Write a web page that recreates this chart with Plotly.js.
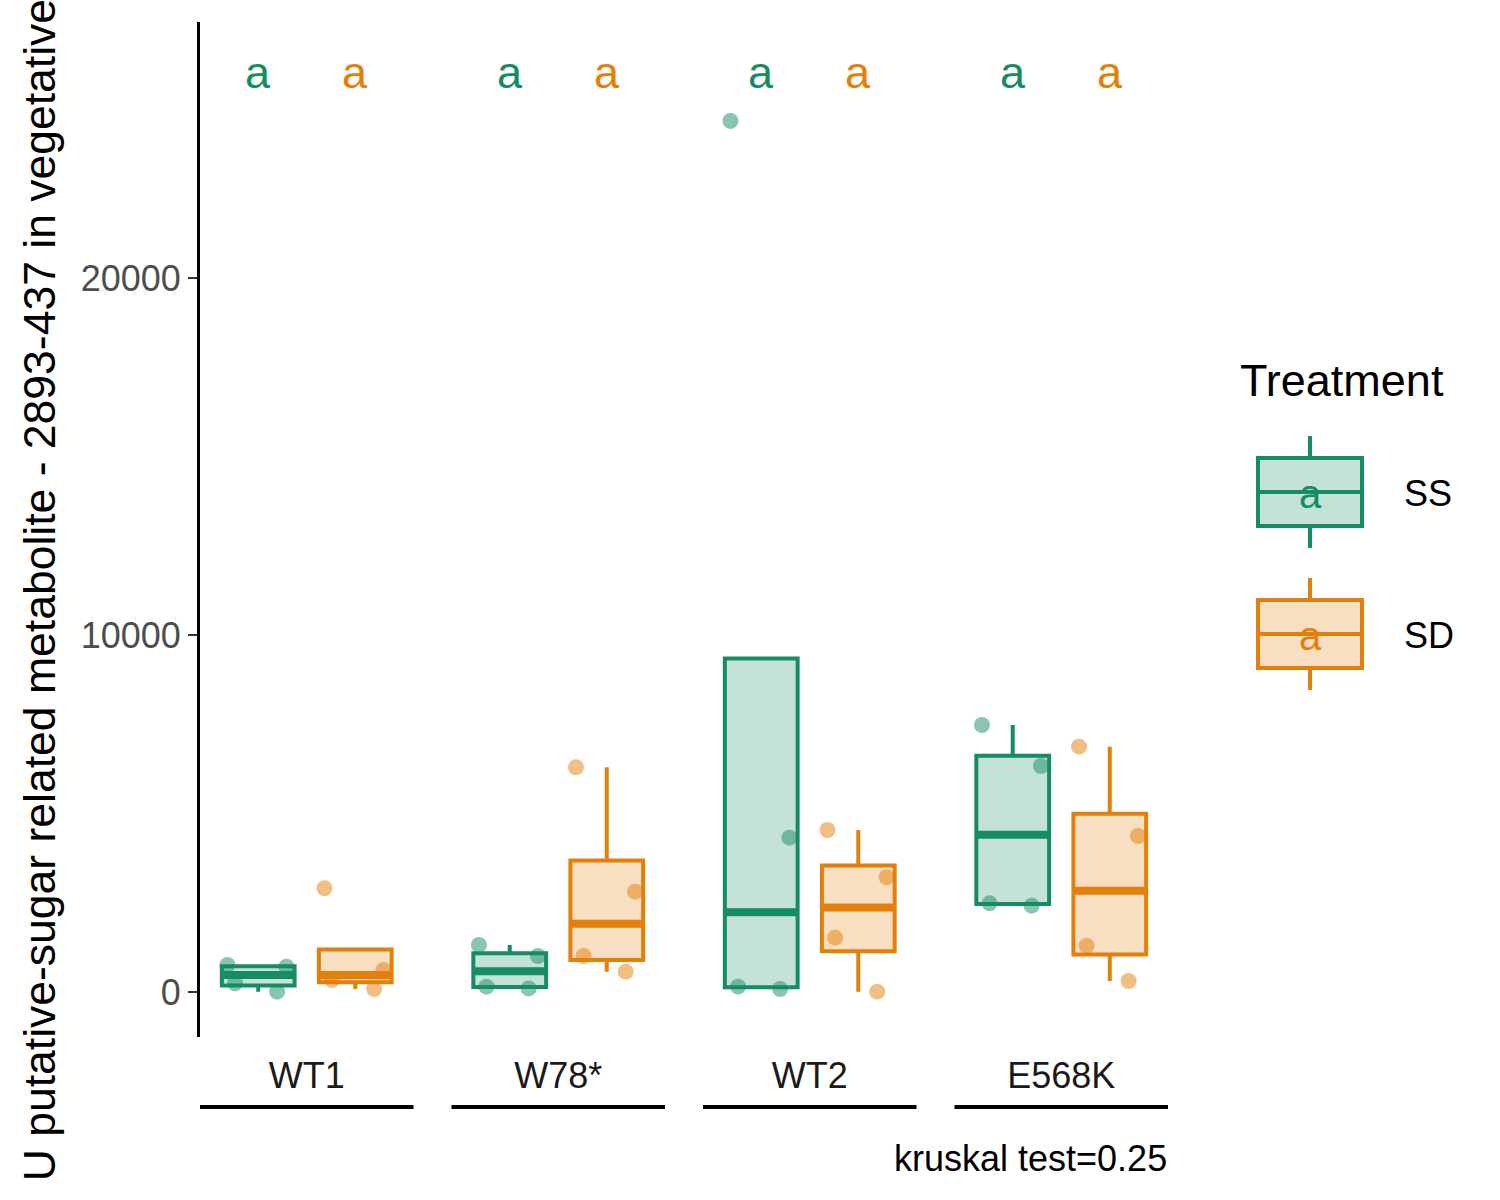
<!DOCTYPE html>
<html>
<head>
<meta charset="utf-8">
<script src="https://cdn.plot.ly/plotly-3.0.1.min.js"></script>
<style>html,body{margin:0;padding:0;background:#fff;}#chart{width:1500px;height:1200px;}</style>
</head>
<body>
<div id="chart"></div>
<script>
// ---------------- data ----------------
const genotypes = ['WT1', 'W78*', 'WT2', 'E568K'];
const treatments = ['SS', 'SD'];
const valuesSS_WT1 = [756, 709, 244, 8];
const valuesSS_W78 = [1008, 1316, 150, 100];
const valuesSS_WT2 = [84, 149, 4322, 24400];
const valuesSS_E568K = [7479, 6330, 2418, 2484];
const valuesSD_WT1 = [2905, 616, 84, 336];
const valuesSD_W78 = [6294, 2810, 1008, 569];
const valuesSD_WT2 = [4538, 3213, 1521, 8];
const valuesSD_E568K = [6871, 4370, 1297, 308];
const lettersSS = ['a', 'a', 'a', 'a'];
const lettersSD = ['a', 'a', 'a', 'a'];
const yTickVals = [0, 10000, 20000];
const yTitle = 'U putative-sugar related metabolite - 2893-437 in vegetative stage';
const legendTitle = 'Treatment';
const testLabel = 'kruskal test=0.25';

// ---------------- styles ----------------
const lineColors = ['#168C62', '#E2800A'];
const fillColors = ['rgba(22,140,98,0.25)', 'rgba(226,128,10,0.25)'];
const pointColors = ['rgba(22,140,98,0.5)', 'rgba(226,128,10,0.5)'];
const FONT = 'Liberation Sans, Arial, sans-serif';

const seriesValues = [
  [valuesSS_WT1, valuesSS_W78, valuesSS_WT2, valuesSS_E568K],
  [valuesSD_WT1, valuesSD_W78, valuesSD_WT2, valuesSD_E568K]
];
const seriesLetters = [lettersSS, lettersSD];

function quant(sorted, p) {
  const n = sorted.length;
  const h = (n - 1) * p;
  const lo = Math.floor(h);
  const hi = Math.min(lo + 1, n - 1);
  return sorted[lo] + (h - lo) * (sorted[hi] - sorted[lo]);
}
function stats(vals) {
  const s = vals.slice().sort((a, b) => a - b);
  const q1 = quant(s, 0.25), med = quant(s, 0.5), q3 = quant(s, 0.75);
  const iqr = q3 - q1;
  const inside = s.filter(v => v >= q1 - 1.5 * iqr && v <= q3 + 1.5 * iqr);
  return {q1, med, q3, lf: Math.min(...inside), uf: Math.max(...inside)};
}

const W = 1500, H = 1200;
const M = {l: 200, r: 332, t: 22, b: 163};
const plotW = W - M.l - M.r, plotH = H - M.t - M.b;
const px2x = px => (px - M.l) / plotW;
const py2y = py => (H - M.b - py) / plotH;

const panelW = 213.5, gap = 38;
const axName = i => (i === 0 ? 'x' : 'x' + (i + 1));
const axKey = i => (i === 0 ? 'xaxis' : 'xaxis' + (i + 1));

const boxTraces = [], medTraces = [], ptTraces = [];
const allVals = [].concat(...seriesValues.map(s => [].concat(...s)));
const labelY = Math.max(...allVals) * 1.055;
const annotations = [];

genotypes.forEach((g, gi) => {
  treatments.forEach((t, ti) => {
    const vals = seriesValues[ti][gi];
    const st = stats(vals);
    boxTraces.push({
      type: 'box', x: [t], q1: [st.q1], median: [st.med], q3: [st.q3],
      lowerfence: [st.lf], upperfence: [st.uf],
      xaxis: axName(gi), yaxis: 'y', width: 0.75, whiskerwidth: 0,
      boxpoints: false, line: {color: lineColors[ti], width: 4},
      fillcolor: fillColors[ti], showlegend: false, hoverinfo: 'skip'
    });
    medTraces.push({
      type: 'box', x: [t], q1: [st.med], median: [st.med], q3: [st.med],
      lowerfence: [st.med], upperfence: [st.med],
      xaxis: axName(gi), yaxis: 'y', width: 0.75, whiskerwidth: 0,
      boxpoints: false, line: {color: lineColors[ti], width: 8},
      fillcolor: 'rgba(0,0,0,0)', showlegend: false, hoverinfo: 'skip'
    });
    ptTraces.push({
      type: 'box', x: vals.map(() => t), y: vals,
      xaxis: axName(gi), yaxis: 'y', width: 0.75,
      boxpoints: 'all', jitter: 1, pointpos: 0,
      line: {width: 0, color: 'rgba(0,0,0,0)'}, fillcolor: 'rgba(0,0,0,0)',
      marker: {color: pointColors[ti], size: 16, line: {width: 0}},
      showlegend: false, hoverinfo: 'y'
    });
    annotations.push({
      xref: axName(gi), yref: 'y', x: t, y: labelY,
      text: seriesLetters[ti][gi], showarrow: false,
      font: {family: FONT, size: 45, color: lineColors[ti]},
      xanchor: 'center', yanchor: 'middle'
    });
  });
});

const layout = {
  width: W, height: H,
  margin: M,
  paper_bgcolor: '#ffffff', plot_bgcolor: '#ffffff',
  showlegend: false,
  boxmode: 'overlay',
  font: {family: FONT, color: '#000000'},
  yaxis: {
    range: [-1261, 27170], anchor: 'x',
    showgrid: false, zeroline: false,
    showline: true, linecolor: '#000000', linewidth: 3,
    ticks: 'outside', ticklen: 9, tickwidth: 2, tickcolor: '#333333',
    tickvals: yTickVals, tickformat: 'd',
    tickfont: {family: FONT, size: 36, color: '#4D4D4D'},
    title: {text: yTitle, font: {family: FONT, size: 44.5, color: '#000000'}, standoff: 12}
  },
  annotations: annotations,
  shapes: []
};

genotypes.forEach((g, gi) => {
  const d0 = gi * (panelW + gap) / plotW;
  const d1 = (gi * (panelW + gap) + panelW) / plotW;
  layout[axKey(gi)] = {
    domain: [d0, d1], anchor: 'y', type: 'category',
    categoryorder: 'array', categoryarray: treatments,
    range: [-0.6, 1.6],
    showgrid: false, zeroline: false, showline: false,
    ticks: '', showticklabels: false,
    title: {text: g, font: {family: FONT, size: 36, color: '#1A1A1A'}, standoff: 25}
  };
  layout.shapes.push({
    type: 'line', xref: axName(gi) + ' domain', yref: 'paper',
    x0: 0, x1: 1, y0: py2y(1107), y1: py2y(1107),
    line: {color: '#000000', width: 4}
  });
});

annotations.push({
  xref: 'paper', yref: 'paper', x: px2x(1169), y: py2y(1158),
  xanchor: 'right', yanchor: 'middle', showarrow: false,
  text: testLabel, font: {family: FONT, size: 36, color: '#000000'}
});

// ---------------- legend (drawn) ----------------
annotations.push({
  xref: 'paper', yref: 'paper', x: px2x(1238), y: py2y(380),
  xanchor: 'left', yanchor: 'middle', showarrow: false,
  text: legendTitle, font: {family: FONT, size: 45, color: '#000000'}
});
treatments.forEach((t, ti) => {
  const cy = 492 + ti * 142;
  const kx0 = 1258, kx1 = 1362, kc = 1310;
  layout.shapes.push({
    type: 'rect', xref: 'paper', yref: 'paper',
    x0: px2x(kx0), x1: px2x(kx1), y0: py2y(cy + 34), y1: py2y(cy - 34),
    line: {color: lineColors[ti], width: 4}, fillcolor: fillColors[ti]
  });
  layout.shapes.push({
    type: 'line', xref: 'paper', yref: 'paper',
    x0: px2x(kx0), x1: px2x(kx1), y0: py2y(cy), y1: py2y(cy),
    line: {color: lineColors[ti], width: 4}
  });
  layout.shapes.push({
    type: 'line', xref: 'paper', yref: 'paper',
    x0: px2x(kc), x1: px2x(kc), y0: py2y(cy - 34), y1: py2y(cy - 56),
    line: {color: lineColors[ti], width: 4}
  });
  layout.shapes.push({
    type: 'line', xref: 'paper', yref: 'paper',
    x0: px2x(kc), x1: px2x(kc), y0: py2y(cy + 34), y1: py2y(cy + 56),
    line: {color: lineColors[ti], width: 4}
  });
  annotations.push({
    xref: 'paper', yref: 'paper', x: px2x(kc), y: py2y(cy + 2),
    xanchor: 'center', yanchor: 'middle', showarrow: false,
    text: seriesLetters[ti][0], font: {family: FONT, size: 40, color: lineColors[ti]}
  });
  annotations.push({
    xref: 'paper', yref: 'paper', x: px2x(1402), y: py2y(cy + 1),
    xanchor: 'left', yanchor: 'middle', showarrow: false,
    text: t, font: {family: FONT, size: 36, color: '#000000'}
  });
});

Plotly.newPlot('chart', boxTraces.concat(medTraces, ptTraces), layout, {staticPlot: true});
</script>
</body>
</html>
